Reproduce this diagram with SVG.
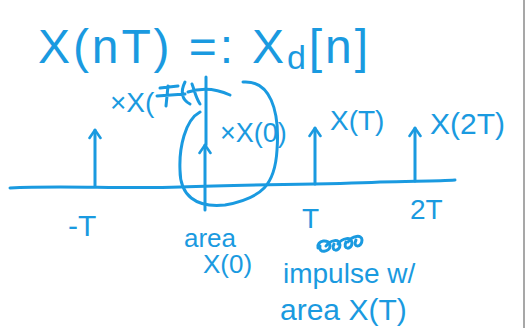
<svg xmlns="http://www.w3.org/2000/svg" width="530" height="328" viewBox="0 0 530 328">
<style>
.ink{fill:none;stroke:#1a9ae0;stroke-width:3;stroke-linecap:round;stroke-linejoin:round}
.t{font-family:"Liberation Sans",Arial,sans-serif;fill:#1a9ae0}
</style>
<defs>
<marker id="ah" viewBox="0 0 14 14" refX="11" refY="7" markerWidth="14" markerHeight="14" markerUnits="userSpaceOnUse" orient="auto"><path d="M3,1.5 L11,7 L3,12.5" fill="none" stroke="#1a9ae0" stroke-width="2.6" stroke-linecap="round" stroke-linejoin="round"/></marker>
</defs>
<rect width="530" height="328" fill="#ffffff"/>
<line x1="524" y1="0" x2="524" y2="328" stroke="#8a8a8a" stroke-width="1.5"/>
<!-- title -->
<text class="t" x="38" y="63" font-size="48" textLength="330" lengthAdjust="spacing">X(nT) =: X<tspan font-size="34" dy="6">d</tspan><tspan dy="-6">[n]</tspan></text>
<!-- axis -->
<path class="ink" d="M10,188 C60,185 120,189 180,187 C260,184 320,185 380,182 C420,181 440,181 455,180"/>
<!-- impulses -->
<g id="impulses">
<line class="ink" x1="95" y1="186" x2="95" y2="130" marker-end="url(#ah)"/>
<line class="ink" x1="205" y1="210" x2="205" y2="145" stroke-width="5" marker-end="url(#ah)"/>
<line class="ink" x1="206" y1="145" x2="206" y2="77" stroke-width="2"/>
<line class="ink" x1="315" y1="184" x2="315" y2="128" marker-end="url(#ah)"/>
<line class="ink" x1="415" y1="181" x2="415" y2="128" marker-end="url(#ah)"/>
</g>
<!-- circle around x(0) -->
<path class="ink" stroke-width="2.2" d="M243,82 C270,80 280,110 277,150 C275,185 262,198 225,205 C195,208 180,195 180,170 C179,148 185,120 200,112"/>
<!-- labels -->
<text class="t" x="110" y="112" font-size="28">×X(</text>
<path class="ink" stroke-width="2.2" d="M160,88 L178,86 M168,86 L166,106 M157,96 L185,94 M185,82 C180,92 182,100 190,104 M192,84 C195,92 196,98 200,104 M188,92 C200,88 215,88 230,95"/>
<text class="t" x="220" y="142" font-size="27">×X(0)</text>
<text class="t" x="330" y="130" font-size="28">X(T)</text>
<text class="t" x="430" y="134" font-size="30">X(2T)</text>
<text class="t" x="68" y="236" font-size="30">-T</text>
<text class="t" x="302" y="228" font-size="28">T</text>
<text class="t" x="410" y="219" font-size="28">2T</text>
<text class="t" x="184" y="247" font-size="26">area</text>
<text class="t" x="203" y="273" font-size="26">X(0)</text>
<path class="ink" stroke-width="3" d="M318,248 C316,240 330,238 330,246 C330,252 318,254 320,246 M326,246 C330,240 340,238 340,245 C340,252 330,252 334,244 M338,244 C342,238 352,236 352,243 C352,250 342,250 346,242 M348,242 C352,236 362,234 362,240 C362,248 352,248 356,240"/>
<text class="t" x="283" y="283" font-size="28">impulse w/</text>
<text class="t" x="280" y="320" font-size="30">area  X(T)</text>
</svg>
